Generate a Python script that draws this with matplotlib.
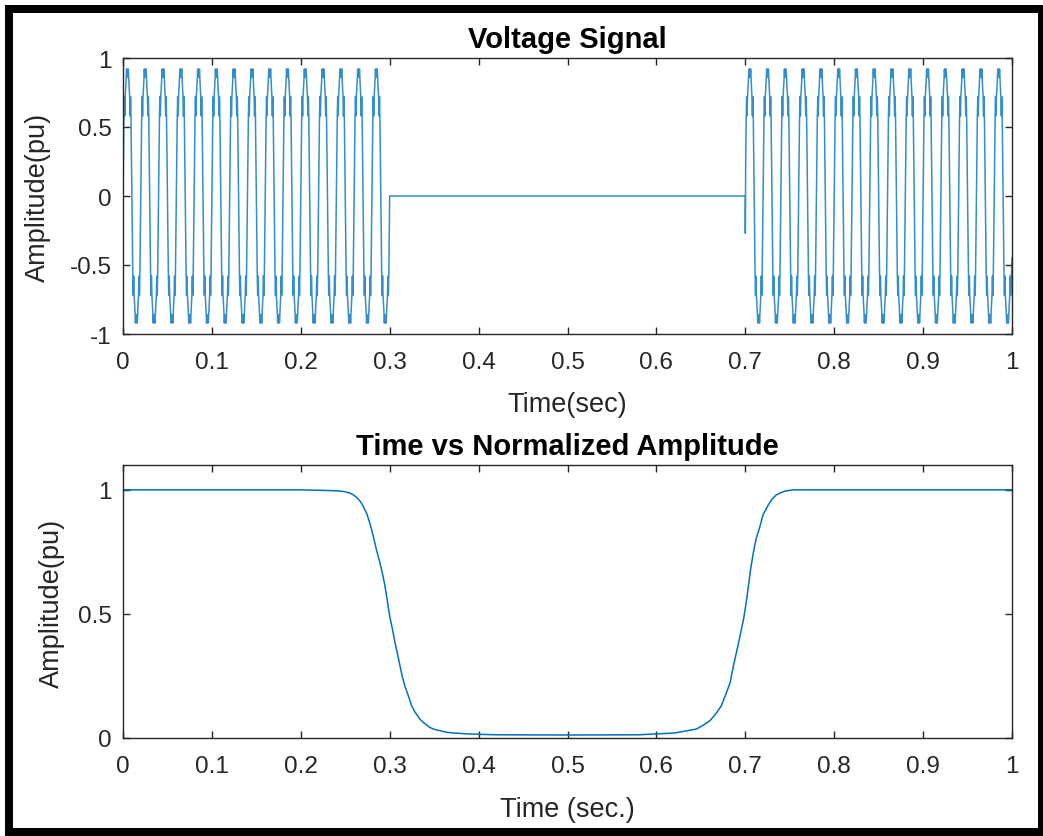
import numpy as np
import matplotlib
matplotlib.use("Agg")
import matplotlib.pyplot as plt
from matplotlib.patches import Rectangle

# ---------------- data ----------------
# one 50 Hz cycle of the voltage waveform, sampled every 0.5 ms (read from picture,
# incl. the small ripple visible on the shoulders and crests)
cycle_values = [0.00, 0.30, 0.56, 0.72, 0.58, 0.72, 0.78, 0.84, 0.92, 0.86,
                0.92, 0.86, 0.92, 0.84, 0.78, 0.72, 0.58, 0.72, 0.56, 0.30,
                0.00, -0.30, -0.56, -0.72, -0.58, -0.72, -0.78, -0.84, -0.92, -0.86,
                -0.92, -0.86, -0.92, -0.84, -0.78, -0.72, -0.58, -0.72, -0.56, -0.30]
sample_period = 0.0005         # s
cycles_per_segment = 15
segment1_start = 0.0
sag_start = 0.3
sag_end = 0.7
sag_value = 0.0
segment2_first_value = -0.27
segment2_last_time = 1.0
segment2_last_value = -0.45

# normalized amplitude (RMS tracker)
norm_time = [0.00, 0.10, 0.20, 0.233, 0.245, 0.250, 0.255, 0.258, 0.262, 0.264,
             0.267, 0.270, 0.274, 0.278, 0.2816, 0.285, 0.289, 0.292, 0.2947,
             0.297, 0.300, 0.303, 0.306, 0.309, 0.3116, 0.314, 0.317, 0.320,
             0.3247, 0.328, 0.334, 0.338, 0.345, 0.350, 0.364, 0.372, 0.390,
             0.42, 0.50, 0.58, 0.62, 0.645, 0.652, 0.660, 0.667, 0.673, 0.678,
             0.683, 0.686, 0.690, 0.694, 0.698, 0.701, 0.7035, 0.706, 0.709,
             0.712, 0.7165, 0.720, 0.726, 0.730, 0.735, 0.739, 0.745, 0.754,
             0.80, 0.90, 1.00]
norm_value = [1.000, 1.000, 1.000, 0.997, 0.995, 0.992, 0.987, 0.982, 0.972, 0.965,
              0.953, 0.935, 0.906, 0.862, 0.812, 0.760, 0.706, 0.660, 0.612,
              0.560, 0.491, 0.440, 0.384, 0.335, 0.290, 0.250, 0.210, 0.180,
              0.130, 0.107, 0.076, 0.062, 0.043, 0.035, 0.023, 0.020, 0.016,
              0.013, 0.012, 0.013, 0.020, 0.036, 0.050, 0.069, 0.098, 0.130, 0.175,
              0.224, 0.280, 0.344, 0.410, 0.478, 0.545, 0.612, 0.680, 0.746,
              0.800, 0.853, 0.900, 0.940, 0.962, 0.980, 0.987, 0.995, 1.000,
              1.000, 1.000, 1.000]

xticks = [0, 0.1, 0.2, 0.3, 0.4, 0.5, 0.6, 0.7, 0.8, 0.9, 1]
xtick_labels = ["0", "0.1", "0.2", "0.3", "0.4", "0.5", "0.6", "0.7", "0.8", "0.9", "1"]
yticks_top = [-1, -0.5, 0, 0.5, 1]
ytick_labels_top = ["-1", "-0.5", "0", "0.5", "1"]
yticks_bot = [0, 0.5, 1]
ytick_labels_bot = ["0", "0.5", "1"]

# ---------------- build voltage series ----------------
n1 = len(cycle_values) * cycles_per_segment
seg1_v = list(cycle_values) * cycles_per_segment + [0.0]
seg1_t = [segment1_start + i * sample_period for i in range(n1 + 1)]
n_sag = int(round((sag_end - sag_start) / sample_period))
sag_t = [sag_start + i * sample_period for i in range(1, n_sag + 1)]
sag_v = [sag_value] * n_sag
seg2_full = [segment2_first_value] + list(cycle_values[1:]) + list(cycle_values) * (cycles_per_segment - 1)
seg2_t, seg2_v = [], []
for i, v in enumerate(seg2_full):
    t = sag_end + i * sample_period
    if t < segment2_last_time - 2.5 * sample_period:
        seg2_t.append(t)
        seg2_v.append(v)
seg2_t.append(segment2_last_time)
seg2_v.append(segment2_last_value)
volt_t = np.array(seg1_t + sag_t + seg2_t)
volt_v = np.array(seg1_v + sag_v + seg2_v)

# ---------------- figure ----------------
W, H = 1043, 837
fig = plt.figure(figsize=(W / 100, H / 100), dpi=100)
fig.patch.set_facecolor("white")
plt.rcParams["font.family"] = ["Liberation Sans", "DejaVu Sans"]

line_color = "#0072BD"
axis_color = "#262626"
tick_fs = 17.5
label_fs = 19.5
title_fs = 21


def px_rect(x0, y0, x1, y1):
    return [x0 / W, 1 - y1 / H, (x1 - x0) / W, (y1 - y0) / H]


def style(ax):
    for s in ax.spines.values():
        s.set_color(axis_color)
        s.set_linewidth(1.0)
    ax.tick_params(direction="in", length=5, width=1.0, color=axis_color,
                   labelcolor=axis_color, labelsize=tick_fs,
                   top=True, right=True)
    ax.tick_params(axis="x", pad=12)
    ax.tick_params(axis="y", pad=8)


ax1 = fig.add_axes(px_rect(123, 59, 1012, 335))
ax1.plot(volt_t, volt_v, color=line_color, lw=1.1, alpha=0.8)
ax1.set_xlim(0, 1)
ax1.set_ylim(-1, 1)
ax1.set_xticks(xticks, xtick_labels)
ax1.set_yticks(yticks_top, ytick_labels_top)
style(ax1)
ax1.set_title("Voltage Signal", fontsize=title_fs, fontweight="bold", pad=8)
fig.text(567 / W, 1 - 405 / H, "Time(sec)", fontsize=label_fs, color=axis_color,
         ha="center", va="center")
fig.text(38 / W, 1 - 197 / H, "Amplitude(pu)", fontsize=label_fs, color=axis_color,
         ha="center", va="center", rotation=90)

ax2 = fig.add_axes(px_rect(123, 466, 1012, 739))
ax2.plot(norm_time, norm_value, color=line_color, lw=1.1)
ax2.set_xlim(0, 1)
ax2.set_ylim(0, 1.1)
ax2.set_xticks(xticks, xtick_labels)
ax2.set_yticks(yticks_bot, ytick_labels_bot)
style(ax2)
ax2.set_title("Time vs Normalized Amplitude", fontsize=title_fs, fontweight="bold", pad=8)
fig.text(567 / W, 1 - 810 / H, "Time (sec.)", fontsize=label_fs, color=axis_color,
         ha="center", va="center")
fig.text(52 / W, 1 - 603 / H, "Amplitude(pu)", fontsize=label_fs, color=axis_color,
         ha="center", va="center", rotation=90)

# black screenshot frame
for (x0, y0, x1, y1) in [(5, 6, 1043, 14), (5, 829, 1043, 837), (5, 6, 13, 837), (1038, 6, 1043, 837)]:
    fig.patches.append(Rectangle((x0 / W, 1 - y1 / H), (x1 - x0) / W, (y1 - y0) / H,
                                 transform=fig.transFigure, facecolor="black",
                                 edgecolor="none", zorder=10))

fig.savefig("out.png", dpi=100)
